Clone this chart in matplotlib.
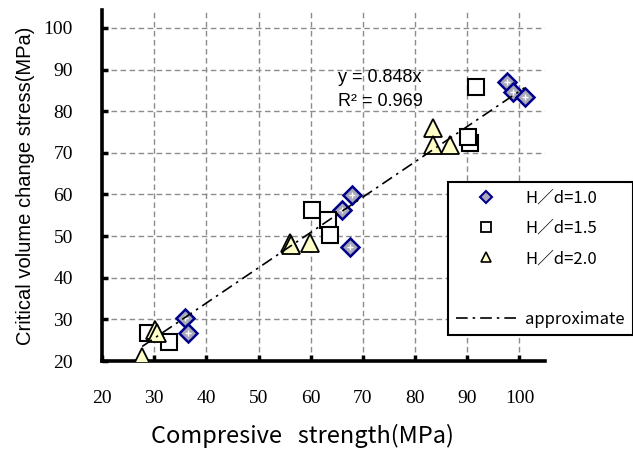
import matplotlib
matplotlib.use("Agg")
import matplotlib.pyplot as plt
from matplotlib.lines import Line2D
import numpy as np

# data (compressive strength, critical volume change stress)
hd10_x = [97.6, 98.7, 101.0, 67.9, 66.0, 67.5, 35.9, 36.5]
hd10_y = [86.9, 84.7, 83.3, 59.8, 56.2, 47.3, 30.3, 26.7]

hd15_x = [91.6, 90.5, 90.1, 60.2, 63.3, 63.7, 28.8, 32.8]
hd15_y = [85.7, 72.3, 73.7, 56.2, 53.8, 50.2, 26.7, 24.6]

hd20_x = [83.4, 83.4, 86.7, 56.0, 56.2, 59.8, 30.2, 30.5, 27.7]
hd20_y = [75.9, 71.8, 71.8, 48.3, 47.8, 48.3, 27.4, 26.7, 21.0]

slope = 0.848
r2 = 0.969

ticks = [20, 30, 40, 50, 60, 70, 80, 90, 100]

serif = "Liberation Serif"
gothic = ["Noto Sans CJK JP", "DejaVu Sans"]
sans = "Liberation Sans"

fig = plt.figure(figsize=(6.33, 4.53), dpi=100)
ax = fig.add_axes([102 / 633, 1 - 361 / 453, 443 / 633, 351 / 453])

ax.plot(hd10_x, hd10_y, 'D', ms=9.5, mfc='#a9a9b9', mec='#00008b', mew=1.8, zorder=3)
ax.plot(hd10_x, hd10_y, '+', ms=4, color='white', mew=1.0, zorder=3)
ax.plot(hd15_x, hd15_y, 's', ms=12, mfc='white', mec='black', mew=1.5, zorder=3)
ax.plot(hd20_x, hd20_y, '^', ms=13, mfc='#ffffc8', mec='black', mew=1.3, zorder=3)

# approximate line through the origin
allx = np.array(hd10_x + hd15_x + hd20_x)
xs = np.array([allx.min(), allx.max()])
ax.plot(xs, slope * xs, color='black', lw=1.2, dashes=(7, 3, 1.5, 3), zorder=4)

fig.text(338 / 633, 1 - 78 / 453, "y = %.3fx" % slope, fontsize=13, family=sans,
         va='center', ha='left')
fig.text(338 / 633, 1 - 102 / 453, "R² = %.3f" % r2, fontsize=13, family=sans,
         va='center', ha='left')

ax.set_xlim(20, 104.9)
ax.set_ylim(20, 104.3)
ax.set_xticks(ticks)
ax.set_yticks(ticks)
ax.set_xticklabels([str(t) for t in ticks], family=serif, fontsize=14)
ax.set_yticklabels([str(t) for t in ticks], family=serif, fontsize=14)
ax.tick_params(direction='in', length=4, width=2.5, pad=21)

ax.grid(True, color='#8c8c8c', linestyle=(0, (4, 2.5)), lw=1.0)
ax.set_axisbelow(True)
for s in ['top', 'right']:
    ax.spines[s].set_visible(False)
for s in ['left', 'bottom']:
    ax.spines[s].set_linewidth(2.6)

ax.set_xlabel("Compresive   strength(MPa)", family=gothic, fontsize=17)
ax.xaxis.set_label_coords(0.453, -0.178)
ax.set_ylabel("Critical volume change stress(MPa)", family=sans, fontsize=14.5, labelpad=6)

handles = [
    Line2D([], [], marker='D', ls='none', ms=6, mfc='#a9a9b9', mec='#00008b', mew=1.5),
    Line2D([], [], marker='s', ls='none', ms=7, mfc='white', mec='black', mew=1.3),
    Line2D([], [], marker='^', ls='none', ms=7, mfc='#ffffc8', mec='black', mew=1.2),
    Line2D([], [], ls='none'),
    Line2D([], [], color='black', lw=1.2, dashes=(7, 3, 1.5, 3)),
]
labels = ["H／d=1.0", "H／d=1.5", "H／d=2.0", " ", "approximate"]
leg = fig.legend(handles, labels, loc='upper left',
                 bbox_to_anchor=(448 / 633, 1 - 182 / 453),
                 prop={'family': gothic, 'size': 12},
                 handlelength=3.7, handletextpad=0.5, labelspacing=0.8,
                 borderpad=0.45, borderaxespad=0, fancybox=False,
                 edgecolor='black', framealpha=1)
leg.get_frame().set_linewidth(1.5)

fig.savefig("out.png", dpi=100)
